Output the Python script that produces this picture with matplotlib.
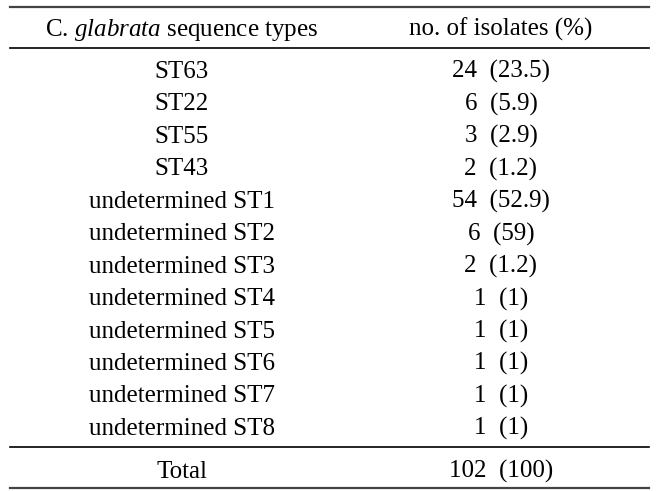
import matplotlib
matplotlib.use("Agg")
import matplotlib.pyplot as plt

# table contents
seq_types = ["ST63", "ST22", "ST55", "ST43",
             "undetermined ST1", "undetermined ST2", "undetermined ST3",
             "undetermined ST4", "undetermined ST5", "undetermined ST6",
             "undetermined ST7", "undetermined ST8"]
n_isolates = [24, 6, 3, 2, 54, 6, 2, 1, 1, 1, 1, 1]
pct_labels = ["23.5", "5.9", "2.9", "1.2", "52.9", "59", "1.2", "1", "1", "1", "1", "1"]
total_n = 102
total_pct = "100"
headers = ["C. $\\it{glabrata}$ sequence types", "no. of isolates (%)"]

plt.rcParams["font.family"] = ["Liberation Serif", "DejaVu Serif"]
plt.rcParams["mathtext.fontset"] = "custom"
plt.rcParams["mathtext.rm"] = "Liberation Serif"
plt.rcParams["mathtext.it"] = "Liberation Serif:italic"

W, H = 668, 491
fig = plt.figure(figsize=(W / 100, H / 100), dpi=100)
ax = fig.add_axes([0, 0, 1, 1])
ax.set_xlim(0, W)
ax.set_ylim(H, 0)
ax.axis("off")

FS = 18
col_x = [182, 501]
x0, x1 = 10, 649

# rules
ax.plot([x0, x1], [7, 7], color="#444444", lw=1.6)
ax.plot([x0, x1], [48, 48], color="black", lw=1.2)
ax.plot([x0, x1], [447, 447], color="black", lw=1.2)
ax.plot([x0, x1], [488, 488], color="#444444", lw=1.6)

# header
for cx, h in zip(col_x, headers):
    ax.text(cx, 36, h, ha="center", va="baseline", fontsize=FS)

# body rows
first_base, step = 78, 32.45
for i, (st, n, p) in enumerate(zip(seq_types, n_isolates, pct_labels)):
    y = first_base + i * step
    ax.text(col_x[0], y, st, ha="center", va="baseline", fontsize=FS)
    ax.text(col_x[1], y, f"{n}  ({p})", ha="center", va="baseline", fontsize=FS)

# total row
ax.text(col_x[0], 478, "Total", ha="center", va="baseline", fontsize=FS)
ax.text(col_x[1], 478, f"{total_n}  ({total_pct})", ha="center", va="baseline", fontsize=FS)

fig.savefig("out.png", dpi=100)
